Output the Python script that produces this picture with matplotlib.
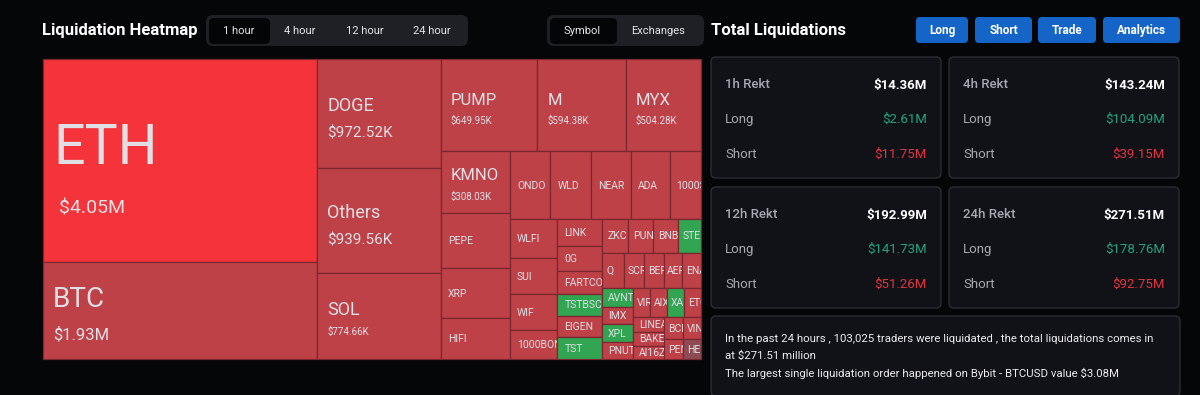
import matplotlib.pyplot as plt
from matplotlib.patches import Rectangle, FancyBboxPatch
from matplotlib.transforms import Bbox

plt.rcParams['font.family'] = ['Roboto', 'DejaVu Sans']

# ---- treemap data (1h liquidations, thousands of USD) ----
coins = ['ETH', 'BTC', 'DOGE', 'Others', 'SOL', 'PUMP', 'M', 'MYX', 'KMNO',
         'PEPE', 'XRP', 'HIFI', 'ONDO', 'WLD', 'NEAR', 'ADA', '1000SATS',
         'WLFI', 'SUI', 'WIF', '1000BONK', 'LINK', '0G', 'FARTCOIN', 'TSTBSC',
         'EIGEN', 'TST', 'ZKC', 'PUNDIX', 'BNB', 'STEEM', 'Q', 'SCR', 'BERA',
         'AERO', 'ENA', 'AVNT', 'IMX', 'XPL', 'PNUT', 'VIRTUAL', 'AIXBT', 'XAI',
         'ETC', 'LINEA', 'BAKE', 'AI16Z', 'BCH', 'VINE', 'PENGU', 'HEMI']
liq_k = [4050, 1930, 972.52, 939.56, 774.66, 649.95, 594.38, 504.28, 308.03,
         276, 251, 206, 200, 198, 195, 193, 150,
         133, 126, 123, 99, 88, 84, 74, 72,
         71, 71, 64, 62, 62, 57, 56, 51, 51,
         48, 48, 42, 40, 40, 39, 36, 36, 36,
         35, 33, 32, 30, 30, 28, 28, 26]
hot_coins = ['ETH']
green_coins = ['STEEM', 'TSTBSC', 'TST', 'AVNT', 'XPL', 'XAI']
dim_coins = ['HEMI']

# ---- summary cards ----
periods = ['1h', '4h', '12h', '24h']
total_m = [14.36, 143.24, 192.99, 271.51]
long_m = [2.61, 104.09, 141.73, 178.76]
short_m = [11.75, 39.15, 51.26, 92.75]
traders_24h = 103025
largest_exchange, largest_symbol, largest_m = 'Bybit', 'BTCUSD', 3.08

tabs_time = ['1 hour', '4 hour', '12 hour', '24 hour']
tabs_group = ['Symbol', 'Exchanges']
buttons = ['Long', 'Short', 'Trade', 'Analytics']

BG = '#050608'
CARD = '#101217'
CARD_EDGE = '#2a2d34'
PILL = '#1e2026'
RED_CELL = '#bf4148'
HOT_CELL = '#f5333a'
GREEN_CELL = '#31a552'
DIM_CELL = '#8d4b53'
CELL_EDGE = '#7a2830'
CELL_TXT = '#dfe0e6'
BLUE = '#1565c8'
GREEN_TXT = '#22a57c'
RED_TXT = '#e3343f'
GREY_TXT = '#a6a9af'
PHI = (1 + 5 ** 0.5) / 2
PX = 100 / 72  # pixels per point at dpi 100
CAP = 0.711    # cap height of Roboto, in em


def squarify(values, x0, y0, x1, y1, ratio=PHI):
    """Squarified treemap (same rule as d3.treemapSquarify)."""
    rects = []
    n = len(values)
    i0 = i1 = 0
    value = float(sum(values))
    while i0 < n:
        dx, dy = x1 - x0, y1 - y0
        sum_v = values[i1]
        i1 += 1
        min_v = max_v = sum_v
        alpha = max(dy / dx, dx / dy) / (value * ratio)
        beta = sum_v * sum_v * alpha
        min_ratio = max(max_v / beta, beta / min_v)
        while i1 < n:
            nv = values[i1]
            sum_v += nv
            min_v, max_v = min(min_v, nv), max(max_v, nv)
            beta = sum_v * sum_v * alpha
            new_ratio = max(max_v / beta, beta / min_v)
            if new_ratio > min_ratio:
                sum_v -= nv
                break
            min_ratio = new_ratio
            i1 += 1
        row = values[i0:i1]
        if dx < dy:
            yb = y0 + dy * sum_v / value
            x = x0
            for v in row:
                w = (x1 - x0) * v / sum_v
                rects.append((x, y0, w, yb - y0))
                x += w
            y0 = yb
        else:
            xb = x0 + dx * sum_v / value
            y = y0
            for v in row:
                h = (y1 - y0) * v / sum_v
                rects.append((x0, y, xb - x0, h))
                y += h
            x0 = xb
        value -= sum_v
        i0 = i1
    return rects


def money_k(v):
    if v >= 1000:
        return f'\\${v / 1000:.2f}M'
    return f'\\${v:.2f}K'


def label_sizes(v, h):
    if v >= 3000:
        return 40, 14
    if v >= 1500:
        return 20, 12
    if v >= 700:
        return 13, (11 if h > 100 else 7)
    if v >= 300:
        return 12, 7
    return 7.5, None


def rbox(ax, x, y, w, h, fc, ec='none', r=6, lw=1.0):
    p = FancyBboxPatch((x, y), w, h, boxstyle=f'round,pad=0,rounding_size={r}',
                       fc=fc, ec=ec, lw=lw)
    ax.add_patch(p)
    return p


def cap_text(ax, x, yc, s, size, **kw):
    # place text so that its capital letters are centred on yc
    return ax.text(x, yc + CAP * size * PX / 2, s, fontsize=size,
                   va='baseline', **kw)


fig = plt.figure(figsize=(12, 3.95), dpi=100, facecolor=BG)
ax = fig.add_axes([0, 0, 1, 1])
ax.set_xlim(0, 1200)
ax.set_ylim(395, 0)
ax.axis('off')
ax.set_facecolor(BG)

# ---- header, left ----
ax.text(42, 31, 'Liquidation Heatmap', fontsize=12, fontweight='bold',
        color='white', va='center')
rbox(ax, 206, 15, 262, 31, PILL, r=7)
rbox(ax, 209, 18, 61, 26, '#040506', r=5)
for lbl, cx in zip(tabs_time, [239, 300, 365, 432]):
    ax.text(cx, 31, lbl, fontsize=8, color='#e6e6e8', ha='center', va='center')
rbox(ax, 547, 15, 157, 31, PILL, r=7)
rbox(ax, 550, 18, 67, 26, '#040506', r=5)
for lbl, cx in zip(tabs_group, [582, 658]):
    ax.text(cx, 31, lbl, fontsize=8, color='#e6e6e8', ha='center', va='center')

# ---- treemap ----
rects = squarify(liq_k, 43, 59, 701, 359)
for name, v, (x, y, w, h) in zip(coins, liq_k, rects):
    if name in hot_coins:
        fc = HOT_CELL
    elif name in green_coins:
        fc = GREEN_CELL
    elif name in dim_coins:
        fc = DIM_CELL
    else:
        fc = RED_CELL
    cell = Rectangle((x, y), w, h, fc=fc, ec=CELL_EDGE, lw=0.9)
    ax.add_patch(cell)
    name_pt, val_pt = label_sizes(v, h)
    pad = 10 if v >= 300 else min(7.5, 0.2 * w)
    cy = y + h / 2
    texts = []
    if val_pt:
        gap = 0.83 * (name_pt + val_pt) * PX
        cy += (0.075 if h > 150 else 0.05) * h
        texts.append(cap_text(ax, x + pad, cy - gap / 2, name, name_pt,
                              color=CELL_TXT))
        texts.append(cap_text(ax, x + pad + (6 if v >= 3000 else 0),
                              cy + gap / 2, money_k(v), val_pt, color=CELL_TXT))
    else:
        texts.append(cap_text(ax, x + pad, cy, name, name_pt, color=CELL_TXT))
    (px0, py0), (px1, py1) = ax.transData.transform([[x, y], [x + w, y + h]])
    clip = Bbox.from_extents(min(px0, px1), min(py0, py1),
                             max(px0, px1), max(py0, py1))
    for t in texts:
        t.set_clip_box(clip)
        t.set_clip_on(True)

# ---- header, right ----
ax.text(711, 31, 'Total Liquidations', fontsize=12, fontweight='bold',
        color='white', va='center')
for lbl, (bx, bw) in zip(buttons, [(916, 52), (975, 57), (1038, 58), (1103, 77)]):
    rbox(ax, bx, 17, bw, 26, BLUE, r=4)
    ax.text(bx + bw / 2, 30.5, lbl, fontsize=8.5, fontweight='bold',
            color='white', ha='center', va='center')

# ---- cards ----
card_pos = [(711, 57), (949, 57), (711, 187), (949, 187)]
for (cx, cy), per, tot, lo, sh in zip(card_pos, periods, total_m, long_m, short_m):
    rbox(ax, cx, cy, 230, 121, CARD, ec=CARD_EDGE, r=5)
    rows = [(f'{per} Rekt', f'\\${tot:.2f}M', 'white', 'bold'),
            ('Long', f'\\${lo:.2f}M', GREEN_TXT, 'normal'),
            ('Short', f'\\${sh:.2f}M', RED_TXT, 'normal')]
    for k, (lbl, val, vc, vw) in enumerate(rows):
        yy = cy + 28 + 34.5 * k
        ax.text(cx + 14, yy, lbl, fontsize=9.5, color=GREY_TXT, va='center',
                fontweight='medium' if k == 0 else 'normal')
        ax.text(cx + 216, yy, val, fontsize=9.5, color=vc, va='center',
                ha='right', fontweight=vw)

rbox(ax, 711, 316, 469, 80, CARD, ec=CARD_EDGE, r=5)
summary = [
    f'In the past 24 hours , {traders_24h:,} traders were liquidated , '
    f'the total liquidations comes in',
    f'at \\${total_m[-1]:.2f} million',
    f'The largest single liquidation order happened on {largest_exchange} - '
    f'{largest_symbol} value \\${largest_m:.2f}M',
]
for k, line in enumerate(summary):
    ax.text(725, 339 + 17.2 * k, line, fontsize=8.2, color='#ececee', va='center')

fig.savefig('out.png', dpi=100, facecolor=BG)
